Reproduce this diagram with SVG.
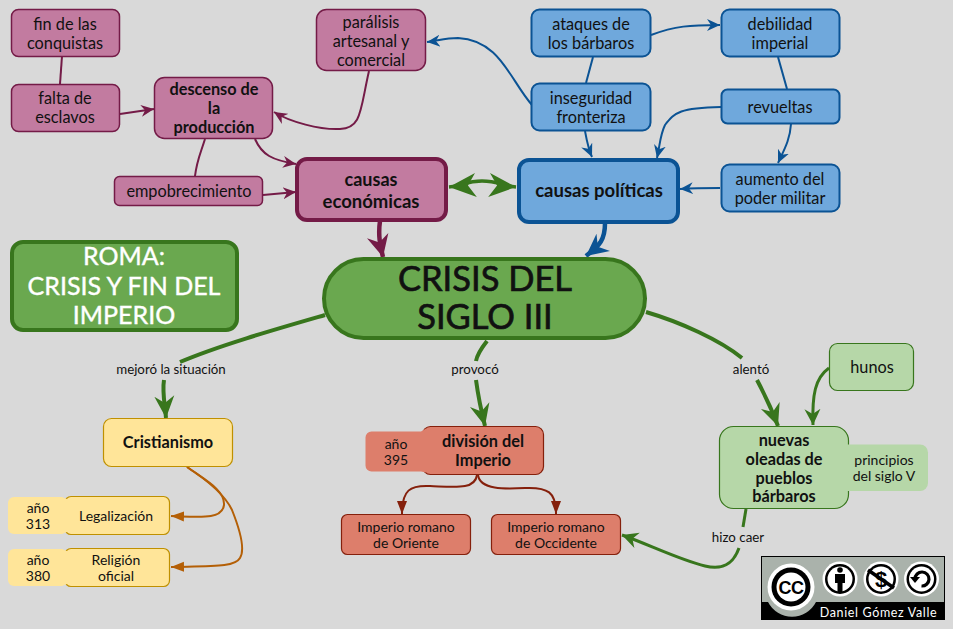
<svg xmlns="http://www.w3.org/2000/svg" width="953" height="629" viewBox="0 0 953 629">
<style>
text{font-family:"Lato","Noto Sans",sans-serif;text-anchor:middle;fill:#111;font-size:16.300px}
.b{font-weight:700}
.s{font-size:14px}
.l{font-size:13.300px}
.pl{fill:#c27ba0;stroke:#741b47;stroke-width:1.500}
.bl{fill:#6fa8dc;stroke:#0b5394;stroke-width:2}
.gr{fill:#b6d7a8;stroke:#38761d;stroke-width:1.200}
.ye{fill:#ffe599;stroke:#bf9000;stroke-width:1.200}
.re{fill:#dd7e6b;stroke:#85200c;stroke-width:1.200}
#connectors path{fill:none}
.cp{stroke:#741b47;stroke-width:2}
.cb{stroke:#0b5394;stroke-width:2}
.cg{stroke:#38761d;stroke-width:3}
.cG{stroke:#38761d;stroke-width:4}
.co{stroke:#b45f06;stroke-width:2}
.cr{stroke:#85200c;stroke-width:2}
.tt{font-size:34.500px;stroke:#111;stroke-width:.7px}
.rm{font-size:25px;fill:#fff;stroke:#fff;stroke-width:.4px}
.ic{font-family:"Liberation Sans",sans-serif;font-weight:700;fill:#000}
</style>
<defs>
<marker id="ap" markerUnits="userSpaceOnUse" markerWidth="16" markerHeight="14" refX="13" refY="7" orient="auto"><path d="M13,7 L0,1 L4,7 L0,13Z" fill="#741b47"/></marker>
<marker id="ab" markerUnits="userSpaceOnUse" markerWidth="16" markerHeight="14" refX="13" refY="7" orient="auto"><path d="M13,7 L0,1 L4,7 L0,13Z" fill="#0b5394"/></marker>
<marker id="ag" markerUnits="userSpaceOnUse" markerWidth="18" markerHeight="18" refX="16" refY="9" orient="auto"><path d="M16,9 L0,1 L5,9 L0,17Z" fill="#38761d"/></marker>
<marker id="Ap" markerUnits="userSpaceOnUse" markerWidth="24" markerHeight="24" refX="22" refY="12" orient="auto"><path d="M22,12 L0,1 L7,12 L0,23Z" fill="#741b47"/></marker>
<marker id="Ab" markerUnits="userSpaceOnUse" markerWidth="24" markerHeight="24" refX="22" refY="12" orient="auto"><path d="M22,12 L0,1 L7,12 L0,23Z" fill="#0b5394"/></marker>
<marker id="Ag" markerUnits="userSpaceOnUse" markerWidth="24" markerHeight="24" refX="22" refY="12" orient="auto"><path d="M22,12 L0,2 L7,12 L0,22Z" fill="#38761d"/></marker>
<marker id="Ad" markerUnits="userSpaceOnUse" markerWidth="30" markerHeight="28" refX="27" refY="14" orient="auto-start-reverse"><path d="M27,14 L0,2 L8,14 L0,26Z" fill="#38761d"/></marker>
<marker id="ao" markerUnits="userSpaceOnUse" markerWidth="14" markerHeight="12" refX="13" refY="6" orient="auto"><path d="M13,6 L0,1 L0,11Z" fill="#b45f06"/></marker>
<marker id="ar" markerUnits="userSpaceOnUse" markerWidth="14" markerHeight="12" refX="13" refY="6" orient="auto"><path d="M13,6 L0,1 L0,11Z" fill="#85200c"/></marker>
</defs>
<rect width="953" height="629" fill="#d9d9d9"/>
<g id="connectors">
<path class="cp" d="M62,56 L60,84"/>
<path class="cp" d="M120,114 L154,109" marker-end="url(#ap)"/>
<path class="cp" d="M369,71 C360,110 362,128 340,129 C320,130 290,122 274,112" marker-end="url(#ap)"/>
<path class="cp" d="M255,139 C262,155 272,160 296,164" marker-end="url(#ap)"/>
<path class="cp" d="M205,139 C200,155 197,160 195,176"/>
<path class="cp" d="M263,195 L296,192" marker-end="url(#ap)"/>
<path class="cp" style="stroke-width:4.500px" d="M380,221 C378,235 380,245 383,257" marker-end="url(#Ap)"/>
<path class="cb" d="M532,105 C510,80 500,40 458,38 C445,38 437,41 427,42" marker-end="url(#ab)"/>
<path class="cb" d="M651,35 C675,26 690,25 720,25" marker-end="url(#ab)"/>
<path class="cb" d="M593,57 L586,83"/>
<path class="cb" d="M778,57 L787,89"/>
<path class="cb" d="M585,131 C587,142 588,148 592,157" marker-end="url(#ab)"/>
<path class="cb" d="M721,107 C680,108 675,112 665,125 C660,135 660,145 657,158" marker-end="url(#ab)"/>
<path class="cb" d="M791,124 C790,140 784,150 778,163" marker-end="url(#ab)"/>
<path class="cb" d="M720,188 C705,188 695,188 680,189" marker-end="url(#ab)"/>
<path class="cb" style="stroke-width:4.500px" d="M605,223 C605,240 600,245 586,256" marker-end="url(#Ab)"/>
<path class="cg" style="stroke-width:3.500px" d="M449,187 C462,186 466,181 482,181 C498,181 503,186 516,187" marker-start="url(#Ad)" marker-end="url(#Ad)"/>
<path class="cG" d="M325,315 C280,328 220,345 180,362"/>
<path class="cG" d="M164,380 C162,392 165,405 166,418" marker-end="url(#Ag)"/>
<path class="cG" d="M487,341 C480,350 477,355 476,361"/>
<path class="cG" d="M476,380 C478,395 481,410 485,426" marker-end="url(#Ag)"/>
<path class="cG" d="M646,312 C680,322 720,340 742,358"/>
<path class="cG" d="M757,380 C765,395 772,410 778,426" marker-end="url(#Ag)"/>
<path class="cg" d="M829,368 C815,378 812,395 813,425" marker-end="url(#ag)"/>
<path class="cg" d="M746,509 L743,527"/>
<path class="cg" d="M739,548 C733,565 722,570 705,566 C680,560 650,545 622,535" marker-end="url(#ag)"/>
<path class="co" d="M187,467 C205,480 225,490 224,505 C222,520 200,517 171,516" marker-end="url(#ao)"/>
<path class="co" d="M187,467 C210,482 225,495 232,510 C240,530 245,550 240,558 C235,567 215,566 171,567" marker-end="url(#ao)"/>
<path class="cr" d="M477,475 C475,490 455,487 430,486 C410,485 402,490 402,514" marker-end="url(#ar)"/>
<path class="cr" d="M478,475 C480,490 505,489 525,488 C548,487 556,492 556,514" marker-end="url(#ar)"/>
</g>
<g id="fin"><rect class="pl" x="11.500" y="9.500" width="108" height="47" rx="7"/><text x="65" y="30">fin de las</text><text x="65" y="49">conquistas</text></g>
<g id="falta"><rect class="pl" x="11.500" y="84.500" width="108" height="47" rx="7"/><text x="65" y="104">falta de</text><text x="65" y="123">esclavos</text></g>
<g id="descenso"><rect class="pl" x="154.500" y="77.500" width="118" height="61" rx="10"/><text class="b" x="214" y="95">descenso de</text><text class="b" x="214" y="114">la</text><text class="b" x="214" y="133">producción</text></g>
<g id="paralisis"><rect class="pl" x="316.500" y="9.500" width="109" height="61" rx="10"/><text x="371" y="27.500">parálisis</text><text x="371" y="46.500">artesanal y</text><text x="371" y="65.500">comercial</text></g>
<g id="empobrecimiento"><rect class="pl" x="114.500" y="176.500" width="148" height="29" rx="5"/><text x="189" y="197">empobrecimiento</text></g>
<g id="economicas"><rect class="pl" style="stroke-width:4" x="297" y="159" width="149" height="61" rx="10"/><text class="b" style="font-size:18px" x="371" y="186">causas</text><text class="b" style="font-size:18.500px" x="371" y="208">económicas</text></g>
<g id="ataques"><rect class="bl" x="531.500" y="9.500" width="119" height="47" rx="8"/><text x="591" y="30">ataques de</text><text x="591" y="49">los bárbaros</text></g>
<g id="inseguridad"><rect class="bl" x="531.500" y="83.500" width="119" height="47" rx="8"/><text x="591" y="104">inseguridad</text><text x="591" y="123">fronteriza</text></g>
<g id="debilidad"><rect class="bl" x="721.500" y="9.500" width="118" height="47" rx="8"/><text x="780" y="30">debilidad</text><text x="780" y="49">imperial</text></g>
<g id="revueltas"><rect class="bl" x="721.500" y="89.500" width="118" height="34" rx="6"/><text x="780" y="113">revueltas</text></g>
<g id="aumento"><rect class="bl" x="721.500" y="164.500" width="118" height="47" rx="8"/><text x="780" y="185">aumento del</text><text x="780" y="204">poder militar</text></g>
<g id="politicas"><rect class="bl" style="stroke-width:4" x="519" y="160" width="159" height="62" rx="10"/><text class="b" style="font-size:18.500px" x="599" y="197">causas políticas</text></g>
<g id="crisis"><rect x="324" y="259" width="321" height="79" rx="39.500" fill="#6aa84f" stroke="#38761d" stroke-width="4"/><text class="tt" x="485" y="291">CRISIS DEL</text><text class="tt" x="485" y="329">SIGLO III</text></g>
<g id="roma"><rect x="12" y="242" width="225" height="88" rx="11" fill="#6aa84f" stroke="#38761d" stroke-width="4"/><text class="rm" x="124" y="265">ROMA:</text><text class="rm" x="124" y="295">CRISIS Y FIN DEL</text><text class="rm" x="124" y="324">IMPERIO</text></g>
<g id="cristianismo"><rect class="ye" x="103.500" y="418.500" width="129" height="48" rx="8"/><text class="b" x="168" y="448">Cristianismo</text></g>
<g id="legalizacion"><rect class="ye" x="65" y="496.500" width="104.500" height="38" rx="6"/><path d="M14,497 H62 L68,499.500 V531.500 L62,534 H14 A6,6 0 0 1 8,528 V503 A6,6 0 0 1 14,497Z" fill="#ffe599"/><text class="s" x="38" y="513">año</text><text class="s" x="38" y="529">313</text><text class="s" x="116" y="521">Legalización</text></g>
<g id="religion"><rect class="ye" x="65" y="548.500" width="104.500" height="38" rx="6"/><path d="M14,549 H62 L68,551.500 V583.500 L62,586 H14 A6,6 0 0 1 8,580 V555 A6,6 0 0 1 14,549Z" fill="#ffe599"/><text class="s" x="38" y="565">año</text><text class="s" x="38" y="581">380</text><text class="s" x="116" y="565">Religión</text><text class="s" x="116" y="581">oficial</text></g>
<g id="division"><rect class="re" x="422.500" y="426.500" width="121" height="48" rx="8"/><path d="M371.500,431.500 H421 L426,428.500 V472.500 L421,471.500 H371.500 A6,6 0 0 1 365.500,465.500 V437.500 A6,6 0 0 1 371.500,431.500Z" fill="#dd7e6b"/><text class="s" x="396" y="449">año</text><text class="s" x="396" y="465">395</text><text class="b" x="483" y="447">división del</text><text class="b" x="483" y="466">Imperio</text></g>
<g id="oriente"><rect class="re" x="341.500" y="514.500" width="129" height="40" rx="6"/><text class="s" x="406" y="532">Imperio romano</text><text class="s" x="406" y="548">de Oriente</text></g>
<g id="occidente"><rect class="re" x="491.500" y="514.500" width="129" height="40" rx="6"/><text class="s" x="556" y="532">Imperio romano</text><text class="s" x="556" y="548">de Occidente</text></g>
<g id="nuevas"><rect class="gr" x="719.500" y="426.500" width="129" height="82" rx="14"/><path d="M846,444.500 H920 A8,8 0 0 1 928,452.500 V483 A8,8 0 0 1 920,491 H846Z" fill="#b6d7a8"/><text class="b" x="784" y="446">nuevas</text><text class="b" x="784" y="465">oleadas de</text><text class="b" x="784" y="484">pueblos</text><text class="b" x="784" y="502">bárbaros</text><text class="s" x="884" y="465">principios</text><text class="s" x="884" y="481">del siglo V</text></g>
<g id="hunos"><rect class="gr" x="829.500" y="343.500" width="84" height="47" rx="8"/><text x="872" y="373">hunos</text></g>
<g id="labels"><text class="l" x="171" y="374">mejoró la situación</text><text class="l" x="475" y="374">provocó</text><text class="l" x="751" y="374">alentó</text><text class="l" x="738" y="542">hizo caer</text></g>
<g id="badge">
<rect x="761" y="556" width="184" height="64" fill="#000"/>
<rect x="762" y="557" width="182" height="45" fill="#aab2ab"/>
<path d="M768,602 A27,27 0 0 0 816,602Z" fill="#aab2ab"/>
<circle cx="791" cy="587" r="23.500" fill="#fff"/><circle cx="791" cy="587" r="19.500" fill="#000"/><circle cx="791" cy="587" r="14.500" fill="#fff"/>
<text class="ic" x="791" y="593.500" style="font-size:18px;letter-spacing:-.5px">CC</text>
<circle cx="840" cy="579" r="17.500" fill="#fff"/><circle cx="840" cy="579" r="15" fill="#000"/><circle cx="840" cy="579" r="12.500" fill="#fff"/>
<circle cx="840" cy="570" r="2.800" fill="#000"/><path d="M835,574 h10 v9 h-2.500 v9 h-5 v-9 h-2.500z" fill="#000"/>
<circle cx="881" cy="579" r="17.500" fill="#fff"/><circle cx="881" cy="579" r="15" fill="#000"/><circle cx="881" cy="579" r="12.500" fill="#fff"/>
<text class="ic" x="881" y="587" style="font-size:22px">$</text>
<path d="M868,570 L894,588" stroke="#000" stroke-width="3.500"/>
<circle cx="921.500" cy="579" r="17.500" fill="#fff"/><circle cx="921.500" cy="579" r="15" fill="#000"/><circle cx="921.500" cy="579" r="12.500" fill="#fff"/>
<path d="M915,579 A7,7 0 1 1 921.500,586" fill="none" stroke="#000" stroke-width="3.200"/><path d="M910,577 h10 l-5,6z" fill="#000"/>
<text x="878.500" y="617" style="font-size:12.500px;fill:#fff;letter-spacing:.65px">Daniel Gómez Valle</text>
</g>
</svg>
